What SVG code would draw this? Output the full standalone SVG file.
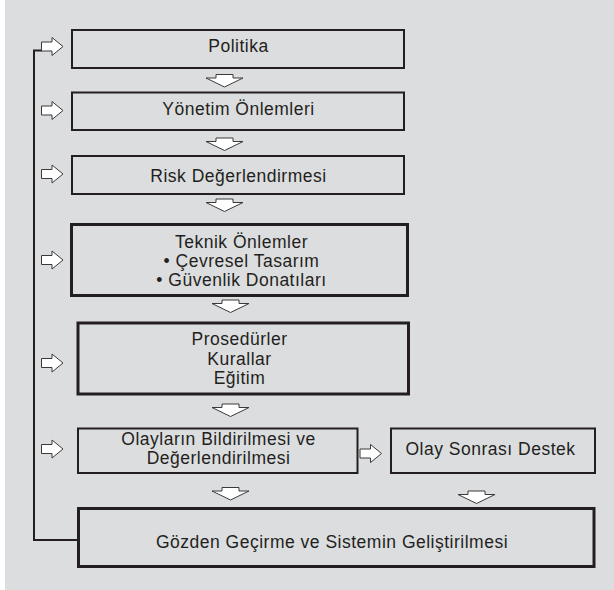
<svg xmlns="http://www.w3.org/2000/svg" width="614" height="590" viewBox="0 0 614 590">
<defs>
<style>
.box{fill:none;stroke:#231f20;stroke-width:2}
.thick{fill:none;stroke:#231f20;stroke-width:3}
.t{font-family:"Liberation Sans",Arial,sans-serif;font-size:17.5px;fill:#231f20;text-anchor:middle;letter-spacing:0.5px}
.ha{fill:#ffffff;stroke:#3a3a3a;stroke-width:1}
.line{fill:none;stroke:#231f20;stroke-width:2}
</style>
<path id="ra" d="M0,-4.5 H10.5 V-9 L21.5,0 L10.5,9 V4.5 H0 Z"/>
<path id="da" d="M-8.5,0 H8.5 V3.5 H18.5 L0,12.5 L-18.5,3.5 H-8.5 Z"/>
</defs>
<rect x="5" y="0" width="609" height="590" fill="#dcdddf"/>

<g id="connectors">
<path class="line" d="M42,50.5 H34 V540 H78"/>
<use href="#ra" class="ha" x="41.5" y="46.5"/>
<use href="#ra" class="ha" x="41.5" y="110.5"/>
<use href="#ra" class="ha" x="41.5" y="174"/>
<use href="#ra" class="ha" x="41.5" y="260"/>
<use href="#ra" class="ha" x="41.5" y="363"/>
<use href="#ra" class="ha" x="41.5" y="449"/>
<use href="#ra" class="ha" x="360" y="453.5"/>
<use href="#da" class="ha" x="224.5" y="74.5"/>
<use href="#da" class="ha" x="224.5" y="138"/>
<use href="#da" class="ha" x="224.5" y="199"/>
<use href="#da" class="ha" x="230.5" y="300"/>
<use href="#da" class="ha" x="230.5" y="404"/>
<use href="#da" class="ha" x="230.5" y="487.5"/>
<use href="#da" class="ha" x="476.5" y="491"/>
</g>

<g id="politika">
<rect class="box" x="72" y="30" width="332" height="38"/>
<text class="t" x="238.5" y="52">Politika</text>
</g>
<g id="yonetim">
<rect class="box" x="72" y="92.5" width="332" height="37.5"/>
<text class="t" x="238.5" y="114.5">Yönetim Önlemleri</text>
</g>
<g id="risk">
<rect class="box" x="72" y="156" width="332" height="38"/>
<text class="t" x="238.5" y="181.5">Risk Değerlendirmesi</text>
</g>
<g id="teknik">
<rect class="thick" x="71.5" y="224.5" width="336" height="71"/>
<text class="t" x="241.5" y="247.5">Teknik Önlemler</text>
<text class="t" x="241.5" y="266.5">• Çevresel Tasarım</text>
<text class="t" x="241.5" y="286">• Güvenlik Donatıları</text>
</g>
<g id="prosedur">
<rect class="thick" x="78" y="323" width="330.5" height="71"/>
<text class="t" x="239.5" y="344.5">Prosedürler</text>
<text class="t" x="239.5" y="364.5">Kurallar</text>
<text class="t" x="239.5" y="383.5">Eğitim</text>
</g>
<g id="olaylar">
<rect class="box" x="78" y="428.5" width="279.5" height="44.5"/>
<text class="t" x="218.5" y="445">Olayların Bildirilmesi ve</text>
<text class="t" x="218.5" y="464">Değerlendirilmesi</text>
</g>
<g id="olaysonrasi">
<rect class="box" x="391" y="428.5" width="204" height="44.5"/>
<text class="t" x="490.5" y="455">Olay Sonrası Destek</text>
</g>
<g id="gozden">
<rect class="thick" x="78.5" y="508.5" width="515.5" height="58"/>
<text class="t" x="332" y="547.5">Gözden Geçirme ve Sistemin Geliştirilmesi</text>
</g>
</svg>
